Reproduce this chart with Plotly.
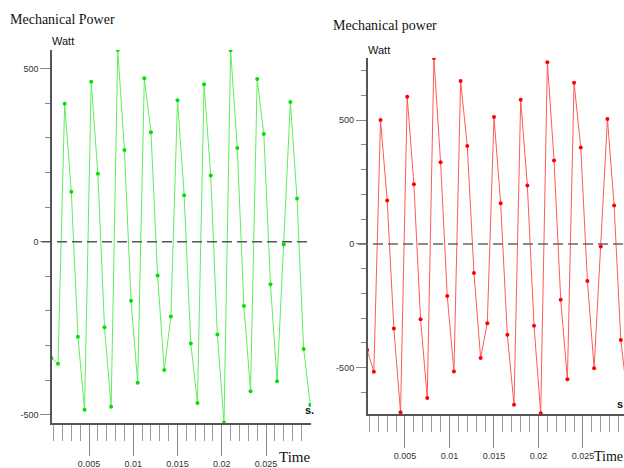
import plotly.graph_objects as go

# ---- data ----
times = [0.00075, 0.0015, 0.00225, 0.003, 0.00375, 0.0045, 0.00525, 0.006, 0.00675, 0.0075,
         0.00825, 0.009, 0.00975, 0.0105, 0.01125, 0.012, 0.01275, 0.0135, 0.01425, 0.015,
         0.01575, 0.0165, 0.01725, 0.018, 0.01875, 0.0195, 0.02025, 0.021, 0.02175, 0.0225,
         0.02325, 0.024, 0.02475, 0.0255, 0.02625, 0.027, 0.02775, 0.0285, 0.02925, 0.03]

power_left = [-336, -353, 399, 144, -275, -486, 462, 196, -247, -477,
              554, 265, -171, -408, 472, 316, -98, -371, -216, 409,
              134, -294, -466, 455, 191, -268, -523, 553, 271, -186,
              -432, 470, 311, -123, -403, -8, 404, 125, -310, -472]

power_right = [-428, -516, 501, 175, -342, -680, 594, 241, -304, -622,
               751, 330, -210, -515, 658, 396, -117, -461, -320, 513,
               164, -367, -650, 582, 236, -331, -684, 734, 337, -226,
               -547, 651, 389, -150, -502, -10, 505, 155, -388, -620]

x_major = [0.005, 0.01, 0.015, 0.02, 0.025]
x_major_text = ["0.005", "0.01", "0.015", "0.02", "0.025"]
x_minor = [0.001, 0.002, 0.003, 0.004, 0.006, 0.007, 0.008, 0.009, 0.011, 0.012, 0.013,
           0.014, 0.016, 0.017, 0.018, 0.019, 0.021, 0.022, 0.023, 0.024, 0.026, 0.027,
           0.028, 0.029]
y_major = [-500, 0, 500]
y_major_text = ["-500", "0", "500"]
y_minor_left = [-500, -400, -300, -200, -100, 0, 100, 200, 300, 400, 500]
y_minor_right = [-600, -500, -400, -300, -200, -100, 0, 100, 200, 300, 400, 500, 600, 700]

W, H = 624, 468
def px(x):
    return x / W
def py(y):
    return (H - y) / H

fig = go.Figure()
fig.add_trace(go.Scatter(x=times, y=power_left, mode="lines+markers",
                         line=dict(color="rgb(95,238,95)", width=1),
                         marker=dict(color="rgb(0,225,0)", size=4),
                         xaxis="x", yaxis="y", showlegend=False))
fig.add_trace(go.Scatter(x=times, y=power_right, mode="lines+markers",
                         line=dict(color="rgb(255,90,90)", width=1),
                         marker=dict(color="rgb(255,0,0)", size=4),
                         xaxis="x2", yaxis="y2", showlegend=False))

axis_common = dict(showgrid=False, zeroline=False, showline=True, linecolor="#555",
                   linewidth=1.5, ticks="outside", tickcolor="#888", tickwidth=1,
                   automargin=False)
tickfont = dict(family="Liberation Sans, Arial, sans-serif", size=9, color="#333")

xa = dict(axis_common, tickmode="array", tickvals=x_major, ticktext=x_major_text,
          tickfont=tickfont,
          minor=dict(tickmode="array", tickvals=x_minor, ticklen=16, tickcolor="#999",
                     ticks="outside", tickwidth=1, showgrid=False))

fig.update_layout(
    width=W, height=H, margin=dict(l=0, r=0, t=0, b=0),
    paper_bgcolor="white", plot_bgcolor="white",
    xaxis=dict(xa, domain=[px(52), px(311)], range=[0.00082, 0.03008], anchor="y",
               ticklen=31),
    yaxis=dict(axis_common, domain=[py(423), py(50)], range=[-524, 554], anchor="x",
               tickmode="array", tickvals=y_major, ticktext=y_major_text, ticklen=10,
               tickfont=tickfont,
               minor=dict(tickmode="array", tickvals=y_minor_left, ticklen=5,
                          tickcolor="#888", ticks="outside", showgrid=False)),
    xaxis2=dict(xa, domain=[px(367.7), 1.0], range=[0.00081, 0.02961], anchor="y2",
                ticklen=32),
    yaxis2=dict(axis_common, domain=[py(414), py(58)], range=[-687, 751], anchor="x2",
                tickmode="array", tickvals=y_major, ticktext=y_major_text, ticklen=10,
                tickfont=tickfont,
                minor=dict(tickmode="array", tickvals=y_minor_right, ticklen=5,
                           tickcolor="#888", ticks="outside", showgrid=False)),
)

# dashed zero lines
fig.add_shape(type="line", xref="paper", yref="y", x0=px(42), x1=px(311), y0=0, y1=0,
              line=dict(color="#555", width=1.5, dash="10px,5px"))
fig.add_shape(type="line", xref="paper", yref="y2", x0=px(358), x1=1.0, y0=0, y1=0,
              line=dict(color="#666", width=1.5, dash="10px,5px"))

serif = "Liberation Serif, Times New Roman, serif"
sans = "Liberation Sans, Arial, sans-serif"
def ann(text, x, y, size, family, color="#111", xanchor="left"):
    fig.add_annotation(text=text, xref="paper", yref="paper", x=px(x), y=py(y),
                       xanchor=xanchor, yanchor="middle", showarrow=False,
                       font=dict(family=family, size=size, color=color))

ann("Mechanical Power", 8, 20, 14, serif)
ann("Mechanical power", 331, 25, 14, serif)
ann("Watt", 50, 41, 11, sans)
ann("Watt", 366, 50, 11, sans)
ann("Time", 277, 457, 15, serif)
ann("Time", 625, 456, 14, serif, xanchor="right")
ann("<b>s.</b>", 303, 410, 11, sans)
ann("<b>s</b>", 625, 404, 11, sans, xanchor="right")

fig.write_html("out.html",
               config={"displayModeBar": False},
               post_script="document.body.style.margin='0px';"
                           "document.body.style.overflow='hidden';")
